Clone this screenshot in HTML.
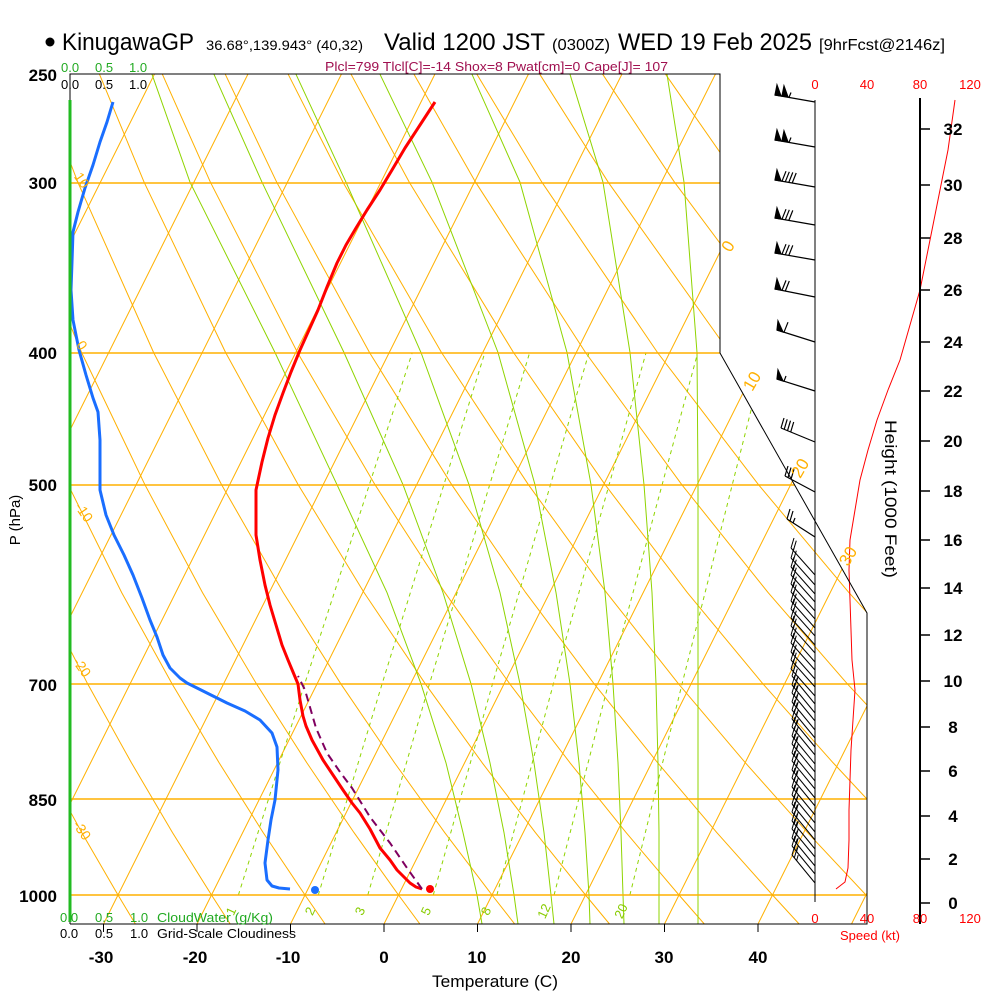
<!DOCTYPE html>
<html><head><meta charset="utf-8"><style>
html,body{margin:0;padding:0;background:#fff}
svg{display:block;font-family:"Liberation Sans",sans-serif}
</style></head><body>
<svg xmlns="http://www.w3.org/2000/svg" xmlns:xlink="http://www.w3.org/1999/xlink" width="1000" height="1000" viewBox="0 0 1000 1000">
<defs>
<clipPath id="cp"><polygon points="70,74 720,74 720,353 867,613 867,924 70,924"/></clipPath>
<g id="lb" stroke="#000" stroke-width="1" fill="none">
<line x1="815" y1="0" x2="791" y2="-27"/>
<line x1="791" y1="-27" x2="794" y2="-37"/>
<line x1="793.3" y1="-24.3" x2="796.3" y2="-34.3"/>
</g>
<g id="lb3" stroke="#000" stroke-width="1" fill="none">
<line x1="815" y1="0" x2="792" y2="-28"/>
<line x1="792" y1="-28" x2="795" y2="-38"/>
<line x1="794.3" y1="-25.2" x2="797.3" y2="-35.2"/>
<line x1="796.6" y1="-22.4" x2="798.2" y2="-28"/>
</g>
</defs>
<rect width="1000" height="1000" fill="#fff"/>
<g clip-path="url(#cp)" fill="none">
<g stroke="#ffb000" stroke-width="1">
<line x1="10" y1="924" x2="435" y2="74"/>
<line x1="-83.5" y1="924" x2="341.5" y2="74"/>
<line x1="-177" y1="924" x2="248" y2="74"/>
<line x1="-270.5" y1="924" x2="154.5" y2="74"/>
<line x1="103.5" y1="924" x2="528.5" y2="74"/>
<line x1="197" y1="924" x2="622" y2="74"/>
<line x1="290.5" y1="924" x2="715.5" y2="74"/>
<line x1="384" y1="924" x2="809" y2="74"/>
<line x1="477.5" y1="924" x2="902.5" y2="74"/>
<line x1="571" y1="924" x2="996" y2="74"/>
<line x1="664.5" y1="924" x2="1089.5" y2="74"/>
<line x1="758" y1="924" x2="1183" y2="74"/>
<line x1="851.5" y1="924" x2="1276.5" y2="74"/>
</g>
<g stroke="#ffb000" stroke-width="1">
<polyline points="135.4,924 118,895 81.8,832.6 43.7,762.9"/>
<polyline points="230.2,924 211.5,895 172.5,832.6 131.5,762.9 87.6,683.8 41,592.6"/>
<polyline points="325.1,924 305,895 263.2,832.6 219.2,762.9 172,683.8 121.7,592.6 68.1,484.7"/>
<polyline points="419.9,924 398.5,895 354,832.6 306.9,762.9 256.4,683.8 202.5,592.6 144.9,484.7 81.6,352.5 10.9,182.2"/>
<polyline points="514.7,924 492,895 444.7,832.6 394.6,762.9 340.8,683.8 283.3,592.6 221.6,484.7 153.6,352.5 77.8,182.2 36.6,74.3"/>
<polyline points="609.5,924 585.5,895 535.4,832.6 482.3,762.9 425.3,683.8 364.1,592.6 298.2,484.7 225.6,352.5 144.1,182.2 99.5,74.3"/>
<polyline points="704.3,924 679,895 626.1,832.6 570.1,762.9 509.7,683.8 444.9,592.6 375,484.7 297.5,352.5 210.4,182.2 162.4,74.3"/>
<polyline points="799.1,924 772.5,895 716.8,832.6 657.8,762.9 594.1,683.8 525.7,592.6 451.7,484.7 369.5,352.5 276.7,182.2 225.3,74.3"/>
<polyline points="893.9,924 866,895 807.5,832.6 745.5,762.9 678.5,683.8 606.5,592.6 528.4,484.7 441.5,352.5 343,182.2 288.2,74.3"/>
<polyline points="988.7,924 959.5,895 898.2,832.6 833.2,762.9 762.9,683.8 687.3,592.6 605.1,484.7 513.5,352.5 409.3,182.2 351.1,74.3"/>
<polyline points="1083.5,924 1053,895 988.9,832.6 920.9,762.9 847.3,683.8 768.1,592.6 681.8,484.7 585.5,352.5 475.6,182.2 414,74.3"/>
<polyline points="1178.3,924 1146.5,895 1079.6,832.6 1008.6,762.9 931.7,683.8 848.9,592.6 758.5,484.7 657.5,352.5 541.9,182.2 476.9,74.3"/>
<polyline points="1273.1,924 1240,895 1170.3,832.6 1096.3,762.9 1016.1,683.8 929.7,592.6 835.2,484.7 729.5,352.5 608.2,182.2 539.8,74.3"/>
<polyline points="1367.9,924 1333.5,895 1261,832.6 1184,762.9 1100.5,683.8 1010.5,592.6 911.9,484.7 801.5,352.5 674.5,182.2 602.7,74.3"/>
<polyline points="1091.3,592.6 988.6,484.7 873.5,352.5 740.8,182.2 665.6,74.3"/>
<polyline points="1065.3,484.7 945.5,352.5 807.1,182.2 728.5,74.3"/>
</g>
<g stroke="#8fd400" stroke-width="1">
<polyline points="482,924 477,895 463,832.6 446,762.9 421,683.8 387,592.6 337,484.7 275,352.5 190,182.2 152,74.3"/>
<polyline points="518,924 514,895 504,832.6 490,762.9 471,683.8 443,592.6 403,484.7 344,352.5 262,182.2 214,74.3"/>
<polyline points="554,924 551,895 544,832.6 534,762.9 520,683.8 500,592.6 469,484.7 421,352.5 346,182.2 296,74.3"/>
<polyline points="590,924 589,895 585,832.6 579,762.9 570,683.8 556,592.6 535,484.7 498,352.5 432,182.2 380,74.3"/>
<polyline points="624,924 623,895 621,832.6 618,762.9 613,683.8 605,592.6 591,484.7 567,352.5 520,182.2 472,74.3"/>
<polyline points="659,924 659,895 659,832.6 658,762.9 656,683.8 652,592.6 644,484.7 630,352.5 603,182.2 570,74.3"/>
<polyline points="698,924 698,895 698,832.6 698,762.9 698,683.8 698,592.6 698,484.7 697,352.5 684,182.2 667,74.3"/>
</g>
<g stroke="#8fd400" stroke-width="1" stroke-dasharray="4,4">
<polyline points="238.4,895 304.7,683.8 412.3,352.5"/>
<polyline points="318.3,895 382.1,683.8 484.9,352.5"/>
<polyline points="367.8,895 429.5,683.8 529.7,352.5"/>
<polyline points="433.3,895 492.5,683.8 589,352.5"/>
<polyline points="496.9,895 553.4,683.8 646.1,352.5"/>
<polyline points="554.1,895 608.4,683.8 697.8,352.5"/>
<polyline points="629.9,895 682.1,683.8 765.6,352.5"/>
</g>
<g stroke="#ffb000" stroke-width="1.5">
<line x1="70" y1="183" x2="720" y2="183"/>
<line x1="70" y1="353" x2="720" y2="353"/>
<line x1="70" y1="485" x2="795" y2="485"/>
<line x1="70" y1="684" x2="867" y2="684"/>
<line x1="70" y1="799" x2="867" y2="799"/>
<line x1="70" y1="895" x2="867" y2="895"/>
</g>
</g>
<polyline points="113,102 107,122 100,142 93,165 85,188 78,212 73,232 72,262 71,290 73,320 79,350 86,375 93,398 98,412 100,440 100,490 106,515 114,535 124,555 133,575 142,598 150,620 157,637 163,655 170,668 180,678 187,683 205,692 227,703 245,711 260,720 272,733 277,747 278,770 275,800 271,820 268,840 265,863 267,880 272,886 279,888 290,889" fill="none" stroke="#1a6eff" stroke-width="3" stroke-linejoin="round"/>
<polyline points="435,102 420,125 405,148 392,170 380,190 367,210 356,228 346,245 337,263 327,287 318,310 309,330 300,350 291,372 283,393 275,415 268,438 262,462 256,490 256,535 260,560 265,585 270,605 276,625 282,645 288,660 293,672 298,684 300,700 303,716 306,726 312,740 323,760 333,775 343,790 352,803 360,813 370,829 380,848 390,860 397,870 404,877 410,883 416,887 422,889" fill="none" stroke="#ff0000" stroke-width="3" stroke-linejoin="round"/>
<polyline points="422,889 407,868 390,843 380,830 370,817 352,788 340,772 327,753 316,728 305,690 298,676" fill="none" stroke="#800060" stroke-width="2" stroke-dasharray="8,5"/>
<circle cx="430" cy="889" r="4" fill="#ff0000"/>
<circle cx="315" cy="890" r="4" fill="#1a6eff"/>
<polyline points="955,100 948,150 940,190 930,240 920,290 910,325 900,360 888,390 877,420 868,450 860,480 855,510 850,540 849,570 850,600 851,630 852,660 855,690 853,720 851,750 850,780 849,810 849,840 848,868 845,882 836,889" fill="none" stroke="#ff0000" stroke-width="1"/>
<polyline points="70,924 70,74 720,74 720,353 867,613 867,924 70,924" fill="none" stroke="#000" stroke-width="1"/>
<line x1="70" y1="100" x2="70" y2="922" stroke="#22bb22" stroke-width="3"/>
<g stroke="#000" stroke-width="1">
<line x1="103.5" y1="924" x2="103.5" y2="932"/><line x1="197" y1="924" x2="197" y2="932"/>
<line x1="290.5" y1="924" x2="290.5" y2="932"/><line x1="384" y1="924" x2="384" y2="932"/>
<line x1="477.5" y1="924" x2="477.5" y2="932"/><line x1="571" y1="924" x2="571" y2="932"/>
<line x1="664.5" y1="924" x2="664.5" y2="932"/><line x1="758" y1="924" x2="758" y2="932"/>
<line x1="815" y1="100" x2="815" y2="902"/>
</g>
<line x1="920" y1="98" x2="920" y2="924" stroke="#000" stroke-width="2"/>
<g stroke="#000" stroke-width="1.5">
<line x1="920" y1="903" x2="930" y2="903"/><line x1="920" y1="859" x2="930" y2="859"/><line x1="920" y1="816" x2="930" y2="816"/>
<line x1="920" y1="771" x2="930" y2="771"/><line x1="920" y1="727" x2="930" y2="727"/><line x1="920" y1="681" x2="930" y2="681"/>
<line x1="920" y1="635" x2="930" y2="635"/><line x1="920" y1="588" x2="930" y2="588"/><line x1="920" y1="540" x2="930" y2="540"/>
<line x1="920" y1="491" x2="930" y2="491"/><line x1="920" y1="441" x2="930" y2="441"/><line x1="920" y1="391" x2="930" y2="391"/>
<line x1="920" y1="342" x2="930" y2="342"/><line x1="920" y1="290" x2="930" y2="290"/><line x1="920" y1="238" x2="930" y2="238"/>
<line x1="920" y1="185" x2="930" y2="185"/><line x1="920" y1="129" x2="930" y2="129"/>
</g>
<g stroke="#000" stroke-width="1.2" fill="#000">
<g transform="translate(0,102)"><line x1="815" y1="0" x2="775" y2="-7"/><polygon points="775,-7 781,-6 777,-17"/><polygon points="782,-6 788,-5 784,-16"/><line x1="789" y1="-4.6" x2="791" y2="-9.5"/></g>
<g transform="translate(0,147)"><line x1="815" y1="0" x2="775" y2="-7"/><polygon points="775,-7 781,-6 777,-17"/><polygon points="782,-6 788,-5 784,-16"/><line x1="789" y1="-4.6" x2="791" y2="-9.5"/></g>
<g transform="translate(0,187)"><line x1="815" y1="0" x2="775" y2="-7"/><polygon points="775,-7 781,-6 777,-17"/><line x1="782" y1="-5.8" x2="786" y2="-15.8"/><line x1="785.3" y1="-5.2" x2="789.3" y2="-15.2"/><line x1="788.8" y1="-4.6" x2="792.8" y2="-14.6"/><line x1="792.2" y1="-4" x2="796.2" y2="-14"/></g>
<g transform="translate(0,225)"><line x1="815" y1="0" x2="775" y2="-7"/><polygon points="775,-7 781,-6 777,-17"/><line x1="782" y1="-5.8" x2="786" y2="-15.8"/><line x1="785.3" y1="-5.2" x2="789.3" y2="-15.2"/><line x1="788.8" y1="-4.6" x2="792.8" y2="-14.6"/></g>
<g transform="translate(0,260)"><line x1="815" y1="0" x2="775" y2="-7"/><polygon points="775,-7 781,-6 777,-17"/><line x1="782" y1="-5.8" x2="786" y2="-15.8"/><line x1="785.3" y1="-5.2" x2="789.3" y2="-15.2"/><line x1="788.8" y1="-4.6" x2="792.8" y2="-14.6"/></g>
<g transform="translate(0,297)"><line x1="815" y1="0" x2="775" y2="-8"/><polygon points="775,-8 781,-7 777,-18"/><line x1="782" y1="-6.6" x2="786" y2="-16.6"/><line x1="785.3" y1="-6" x2="789.3" y2="-16"/></g>
<g transform="translate(0,342)"><line x1="815" y1="0" x2="777" y2="-12"/><polygon points="777,-12 783,-10 778,-21"/><line x1="784" y1="-9.8" x2="788" y2="-19.8"/></g>
<g transform="translate(0,391)"><line x1="815" y1="0" x2="777" y2="-12"/><polygon points="777,-12 783,-10 778,-21"/><line x1="784" y1="-9.8" x2="786" y2="-15"/></g>
<g transform="translate(0,442)" fill="none"><line x1="815" y1="0" x2="781" y2="-14"/><line x1="781" y1="-14" x2="784" y2="-24"/><line x1="784.2" y1="-12.7" x2="787.2" y2="-22.7"/><line x1="787.5" y1="-11.3" x2="790.5" y2="-21.3"/><line x1="790.7" y1="-10" x2="793.7" y2="-20"/></g>
<g transform="translate(0,492)" fill="none"><line x1="815" y1="0" x2="785" y2="-16"/><line x1="785" y1="-16" x2="788" y2="-26"/><line x1="788" y1="-14.4" x2="791" y2="-24.4"/><line x1="791" y1="-12.8" x2="794" y2="-22.8"/></g>
<g transform="translate(0,537)" fill="none"><line x1="815" y1="0" x2="787" y2="-18"/><line x1="787" y1="-18" x2="790" y2="-28"/><line x1="790" y1="-16" x2="793" y2="-26"/><line x1="793" y1="-14" x2="795" y2="-19"/></g>
</g>
<use href="#lb" xlink:href="#lb" y="575"/><use href="#lb" xlink:href="#lb" y="585"/>
<use href="#lb" xlink:href="#lb" y="594"/><use href="#lb" xlink:href="#lb" y="602"/>
<use href="#lb" xlink:href="#lb" y="611"/><use href="#lb" xlink:href="#lb" y="619"/><use href="#lb" xlink:href="#lb" y="628"/>
<use href="#lb" xlink:href="#lb" y="636"/><use href="#lb" xlink:href="#lb" y="645"/><use href="#lb" xlink:href="#lb" y="653"/>
<use href="#lb" xlink:href="#lb" y="662"/><use href="#lb" xlink:href="#lb" y="670"/><use href="#lb" xlink:href="#lb" y="679"/>
<use href="#lb" xlink:href="#lb" y="687"/><use href="#lb" xlink:href="#lb" y="696"/><use href="#lb3" xlink:href="#lb3" y="704"/>
<use href="#lb3" xlink:href="#lb3" y="713"/><use href="#lb3" xlink:href="#lb3" y="721"/><use href="#lb3" xlink:href="#lb3" y="730"/>
<use href="#lb3" xlink:href="#lb3" y="738"/><use href="#lb3" xlink:href="#lb3" y="747"/><use href="#lb3" xlink:href="#lb3" y="755"/>
<use href="#lb3" xlink:href="#lb3" y="764"/><use href="#lb3" xlink:href="#lb3" y="772"/><use href="#lb3" xlink:href="#lb3" y="781"/>
<use href="#lb3" xlink:href="#lb3" y="789"/><use href="#lb3" xlink:href="#lb3" y="798"/><use href="#lb3" xlink:href="#lb3" y="806"/>
<use href="#lb3" xlink:href="#lb3" y="815"/><use href="#lb3" xlink:href="#lb3" y="823"/><use href="#lb3" xlink:href="#lb3" y="832"/>
<use href="#lb3" xlink:href="#lb3" y="840"/><use href="#lb3" xlink:href="#lb3" y="849"/><use href="#lb3" xlink:href="#lb3" y="857"/>
<use href="#lb3" xlink:href="#lb3" y="866"/><use href="#lb3" xlink:href="#lb3" y="874"/><use href="#lb3" xlink:href="#lb3" y="883"/>
<circle cx="50" cy="42" r="4.5" fill="#000"/>
<text x="62" y="50" font-size="24" textLength="132" lengthAdjust="spacingAndGlyphs">KinugawaGP</text>
<text x="206" y="50" font-size="14" textLength="157" lengthAdjust="spacingAndGlyphs">36.68°,139.943° (40,32)</text>
<text x="384" y="50" font-size="24" textLength="161" lengthAdjust="spacingAndGlyphs">Valid 1200 JST</text>
<text x="552" y="50" font-size="16" textLength="58" lengthAdjust="spacingAndGlyphs">(0300Z)</text>
<text x="618" y="50" font-size="24" textLength="194" lengthAdjust="spacingAndGlyphs">WED 19 Feb 2025</text>
<text x="819" y="50" font-size="16" textLength="126" lengthAdjust="spacingAndGlyphs">[9hrFcst@2146z]</text>
<text x="325" y="71" font-size="13" fill="#a01050" textLength="343" lengthAdjust="spacingAndGlyphs">Plcl=799 Tlcl[C]=-14 Shox=8 Pwat[cm]=0 Cape[J]= 107</text>
<g font-size="13" fill="#22aa22"><text x="61" y="72">0.0</text><text x="95" y="72">0.5</text><text x="129" y="72">1.0</text></g>
<g font-size="13" fill="#000"><text x="61" y="89">0.0</text><text x="95" y="89">0.5</text><text x="129" y="89">1.0</text></g>
<g font-size="13" fill="#22aa22"><text x="60" y="922">0.0</text><text x="95" y="922">0.5</text><text x="130" y="922">1.0</text><text x="157" y="922" textLength="116" lengthAdjust="spacingAndGlyphs">CloudWater (g/Kg)</text></g>
<g font-size="13" fill="#000"><text x="60" y="938">0.0</text><text x="95" y="938">0.5</text><text x="130" y="938">1.0</text><text x="157" y="938" textLength="139" lengthAdjust="spacingAndGlyphs">Grid-Scale Cloudiness</text></g>
<g font-size="17" text-anchor="end" fill="#000" font-weight="bold">
<text x="57" y="81">250</text><text x="57" y="189">300</text><text x="57" y="359">400</text>
<text x="57" y="491">500</text><text x="57" y="691">700</text><text x="57" y="806">850</text><text x="57" y="902">1000</text>
</g>
<text transform="translate(20,520) rotate(-90)" font-size="15" text-anchor="middle">P (hPa)</text>
<g font-size="17" text-anchor="middle" font-weight="bold">
<text x="101" y="963">-30</text><text x="195" y="963">-20</text><text x="288" y="963">-10</text><text x="384" y="963">0</text>
<text x="477" y="963">10</text><text x="571" y="963">20</text><text x="664" y="963">30</text><text x="758" y="963">40</text>
</g>
<text x="495" y="987" font-size="17" text-anchor="middle" textLength="126" lengthAdjust="spacingAndGlyphs">Temperature (C)</text>
<g font-size="13" fill="#ff0000" text-anchor="middle">
<text x="815" y="89">0</text><text x="867" y="89">40</text><text x="920" y="89">80</text><text x="970" y="89">120</text>
<text x="815" y="923">0</text><text x="867" y="923">40</text><text x="920" y="923">80</text><text x="970" y="923">120</text>
<text x="870" y="940">Speed (kt)</text>
</g>
<g font-size="17" text-anchor="middle" font-weight="bold">
<text x="953" y="909">0</text><text x="953" y="865">2</text><text x="953" y="822">4</text><text x="953" y="777">6</text>
<text x="953" y="733">8</text><text x="953" y="687">10</text><text x="953" y="641">12</text><text x="953" y="594">14</text>
<text x="953" y="546">16</text><text x="953" y="497">18</text><text x="953" y="447">20</text><text x="953" y="397">22</text>
<text x="953" y="348">24</text><text x="953" y="296">26</text><text x="953" y="244">28</text><text x="953" y="191">30</text>
<text x="953" y="135">32</text>
</g>
<text transform="translate(885,499) rotate(90)" font-size="17" text-anchor="middle" textLength="158" lengthAdjust="spacingAndGlyphs">Height (1000 Feet)</text>
<g font-size="17" fill="#ffb000" text-anchor="middle">
<text transform="translate(733,249) rotate(-60)">0</text>
<text transform="translate(757,384) rotate(-60)">10</text>
<text transform="translate(805,471) rotate(-60)">20</text>
<text transform="translate(853,559) rotate(-60)">30</text>
</g>
<g font-size="14" fill="#ffb000" text-anchor="middle">
<text transform="translate(78,183) rotate(55)">10</text>
<text transform="translate(78,348) rotate(55)">0</text>
<text transform="translate(80,515) rotate(55)">-10</text>
<text transform="translate(78,670) rotate(55)">-20</text>
<text transform="translate(78,833) rotate(55)">-30</text>
</g>
<g font-size="13" fill="#88cc00" text-anchor="middle">
<text transform="translate(235,913) rotate(-65)">1</text>
<text transform="translate(314,913) rotate(-65)">2</text>
<text transform="translate(364,913) rotate(-65)">3</text>
<text transform="translate(430,913) rotate(-65)">5</text>
<text transform="translate(490,913) rotate(-65)">8</text>
<text transform="translate(548,913) rotate(-65)">12</text>
<text transform="translate(625,913) rotate(-65)">20</text>
</g>
</svg>
</body></html>
